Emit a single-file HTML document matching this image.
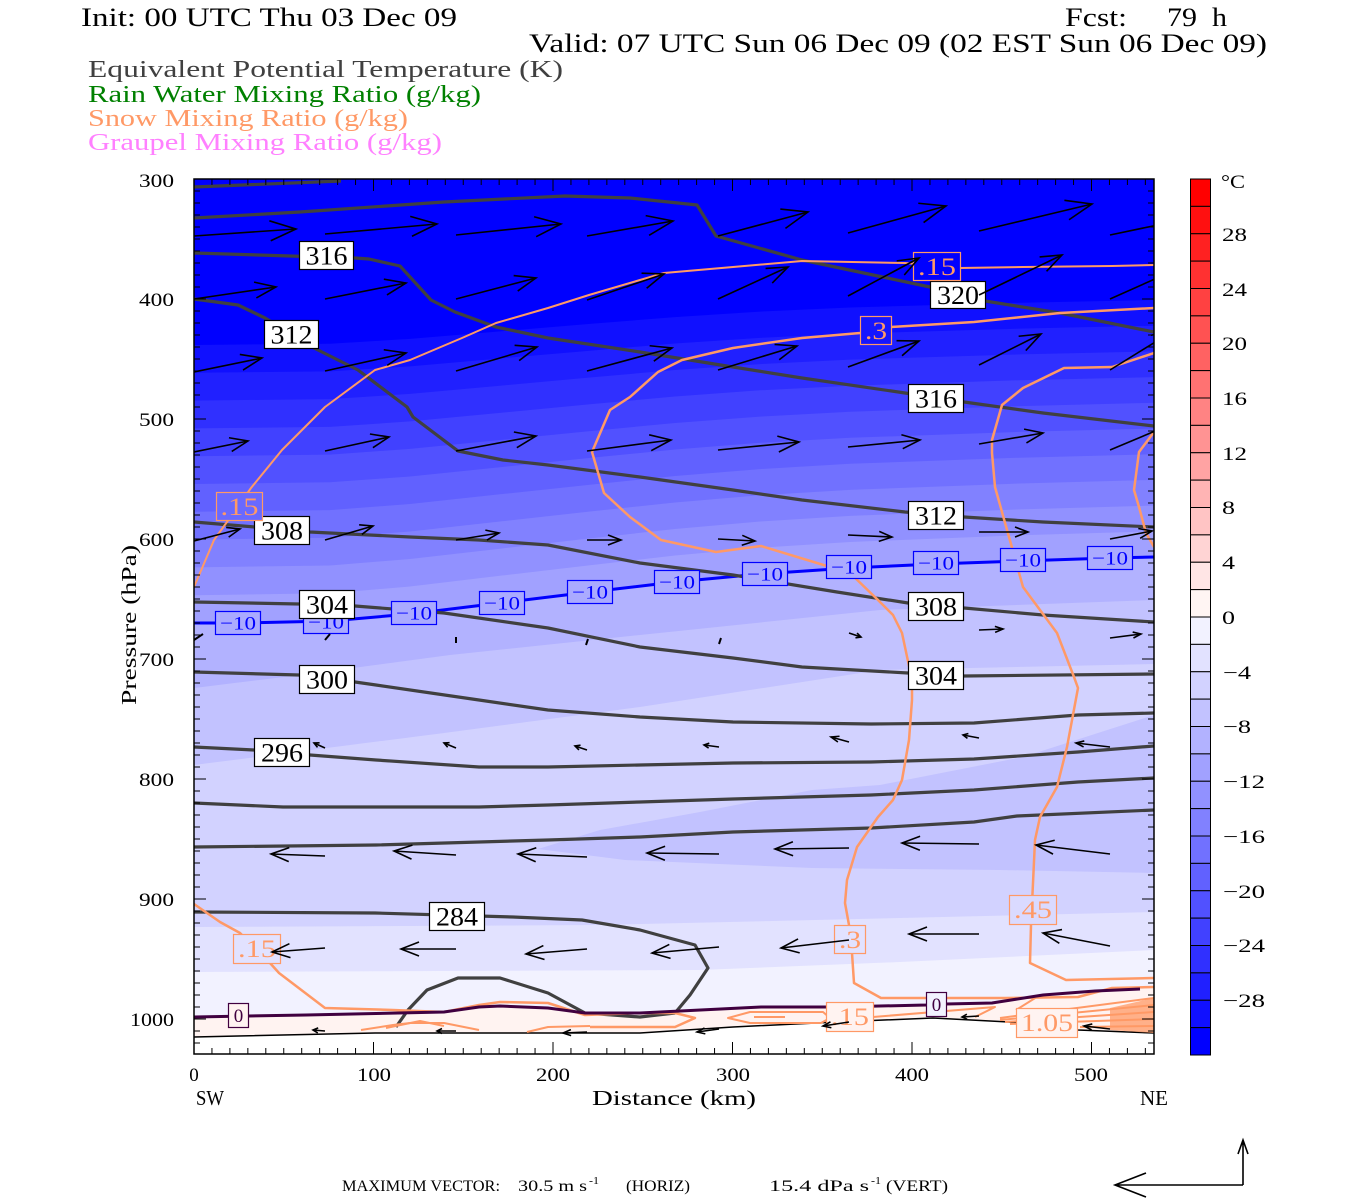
<!DOCTYPE html>
<html><head><meta charset="utf-8"><style>
html,body{margin:0;padding:0;background:#fff;}
svg{display:block;font-family:"Liberation Serif",serif;}
</style></head><body>
<svg width="1350" height="1200" viewBox="0 0 1350 1200" xmlns="http://www.w3.org/2000/svg">
<defs>
<clipPath id="pc"><rect x="194" y="179" width="960" height="875"/></clipPath>
<pattern id="ptx" patternUnits="userSpaceOnUse" x="193.5" y="0" width="17.95" height="20"><rect x="0" y="0" width="1" height="20" fill="#000"/></pattern>
<pattern id="pty" patternUnits="userSpaceOnUse" x="0" y="178.5" width="20" height="12"><rect x="0" y="0" width="20" height="1" fill="#000"/></pattern>
<marker id="aL" viewBox="-30 -12 32 24" markerWidth="32" markerHeight="24" refX="0" refY="0" orient="auto" markerUnits="userSpaceOnUse" overflow="visible"><path d="M-26,-10L0,0L-26,10" fill="none" stroke="#000" stroke-width="1.6"/></marker>
<marker id="aM1" viewBox="-30 -12 32 24" markerWidth="32" markerHeight="24" refX="0" refY="0" orient="auto" markerUnits="userSpaceOnUse" overflow="visible"><path d="M-21,-8L0,0L-21,8" fill="none" stroke="#000" stroke-width="1.6"/></marker>
<marker id="aM2" viewBox="-30 -12 32 24" markerWidth="32" markerHeight="24" refX="0" refY="0" orient="auto" markerUnits="userSpaceOnUse" overflow="visible"><path d="M-18,-7L0,0L-18,7" fill="none" stroke="#000" stroke-width="1.6"/></marker>
<marker id="aS" viewBox="-30 -12 32 24" markerWidth="32" markerHeight="24" refX="0" refY="0" orient="auto" markerUnits="userSpaceOnUse" overflow="visible"><path d="M-13,-5L0,0L-13,5" fill="none" stroke="#000" stroke-width="1.6"/></marker>
<marker id="aT2" viewBox="-30 -12 32 24" markerWidth="32" markerHeight="24" refX="0" refY="0" orient="auto" markerUnits="userSpaceOnUse" overflow="visible"><path d="M-8,-3L0,0L-8,3" fill="none" stroke="#000" stroke-width="1.6"/></marker>
<marker id="aT" viewBox="-30 -12 32 24" markerWidth="32" markerHeight="24" refX="0" refY="0" orient="auto" markerUnits="userSpaceOnUse" overflow="visible"><path d="M-5,-2.5L0,0L-5,2.5" fill="none" stroke="#000" stroke-width="1.6"/></marker>
</defs>

<!-- Titles -->
<text x="81" y="26" font-size="26" textLength="376" lengthAdjust="spacingAndGlyphs">Init: 00 UTC Thu 03 Dec 09</text>
<text x="1065" y="26" font-size="26" textLength="62" lengthAdjust="spacingAndGlyphs">Fcst:</text>
<text x="1167" y="26" font-size="26" textLength="30" lengthAdjust="spacingAndGlyphs">79</text>
<text x="1212" y="26" font-size="26" textLength="15" lengthAdjust="spacingAndGlyphs">h</text>
<text x="529" y="52" font-size="26" textLength="738" lengthAdjust="spacingAndGlyphs">Valid: 07 UTC Sun 06 Dec 09 (02 EST Sun 06 Dec 09)</text>
<text x="88" y="77" font-size="24" fill="#404040" textLength="475" lengthAdjust="spacingAndGlyphs">Equivalent Potential Temperature (K)</text>
<text x="88" y="102" font-size="24" fill="#008000" textLength="393" lengthAdjust="spacingAndGlyphs">Rain Water Mixing Ratio (g/kg)</text>
<text x="88" y="126" font-size="24" fill="#FF9966" textLength="320" lengthAdjust="spacingAndGlyphs">Snow Mixing Ratio (g/kg)</text>
<text x="88" y="150" font-size="24" fill="#FF80FF" textLength="354" lengthAdjust="spacingAndGlyphs">Graupel Mixing Ratio (g/kg)</text>

<!-- Shading -->
<g clip-path="url(#pc)">
<rect x="194" y="179" width="960" height="875" fill="#0000FF"/>
<path fill="#1010FF" d="M194,345L330,343.7L410,338.9L500,331.4L590,323.9L675,317.1L760,311.6L850,307.5L1020,302.7L1154,300V1054H194Z"/>
<path fill="#2020FF" d="M194,372.8L330,371.4L410,366.4L500,358.5L590,350.7L675,343.5L760,337.9L850,333.6L1020,328.6L1154,325.7V1054H194Z"/>
<path fill="#3030FF" d="M194,400.6L330,399.1L410,393.9L500,385.7L590,377.5L675,370L760,364.1L850,359.6L1020,354.4L1154,351.4V1054H194Z"/>
<path fill="#4141FF" d="M194,428.4L330,426.9L410,421.4L500,412.9L590,404.3L675,396.5L760,390.3L850,385.7L1020,380.2L1154,377.1V1054H194Z"/>
<path fill="#5151FF" d="M194,456.2L330,454.6L410,448.9L500,440L590,431.1L675,423L760,416.6L850,411.7L1020,406.1L1154,402.8V1054H194Z"/>
<path fill="#6161FF" d="M194,484L330,482.3L410,476.5L500,467.2L590,457.9L675,449.5L760,442.8L850,437.8L1020,431.9L1154,428.5V1054H194Z"/>
<path fill="#7171FF" d="M194,511.8L330,510.1L410,504L500,494.3L590,484.7L675,476L760,469.1L850,463.8L1020,457.7L1154,454.2V1054H194Z"/>
<path fill="#8181FF" d="M194,539.6L330,537.8L410,531.5L500,521.5L590,511.5L675,502.5L760,495.3L850,489.9L1020,483.5L1154,479.9V1054H194Z"/>
<path fill="#9191FF" d="M194,567.4L330,565.5L410,559L500,548.7L590,538.4L675,529L760,521.5L850,515.9L1020,509.4L1154,505.6V1054H194Z"/>
<path fill="#A1A1FF" d="M194,595.2L330,593.3L410,586.5L500,575.8L590,565.2L675,555.5L760,547.8L850,542L1020,535.2L1154,531.3V1054H194Z"/>
<path fill="#B2B2FF" d="M194,623L240,623L330,621L410,614L500,603L590,592L675,582L760,574L850,568L935,564L1020,561L1110,558L1154,557V1054H194Z"/>
<path fill="#C2C2FF" d="M194,688L300,675L450,655L640,635L880,610L1154,600V1054H194Z"/>
<path fill="#D2D2FF" d="M194,765L444,733L640,707L880,670L1154,664V1054H194Z"/>
<path fill="#C2C2FF" d="M538,849L600,830L700,812L812,790L880,785L1023,757L1154,715L1154,873L1000,870L812,868L625,860Z"/>
<path fill="#E2E2FF" d="M194,927L600,925L900,918L1154,912V1054H194Z"/>
<path fill="#F2F2FF" d="M194,972L700,970L900,962L1154,950V1054H194Z"/>
<path fill="#FFF3F1" d="M194,1017L306,1015L444,1012L479,1007L500,1006L548,1008L585,1013L640,1013L761,1007L837,1007L926,1005L946,1004L992,1003L1043,995L1095,991L1140,989L1154,988V1054H194Z"/>
<path fill="#FFFFFF" d="M194,1037L375,1033L640,1033L733,1027L837,1022L933,1018L1009,1022L1078,1030L1154,1033V1054H194Z"/>
<path fill="none" stroke="#000" stroke-width="1.5" d="M194,1037L375,1033L640,1033L733,1027L837,1022L933,1018L1009,1022L1078,1030L1154,1033"/>

<!-- -10 isotherm -->
<path fill="none" stroke="#0000FF" stroke-width="3" d="M194,623L240,623L330,621L410,614L500,603L590,592L675,582L760,574L850,568L935,564L1020,561L1110,558L1154,557"/>

<!-- theta-e contours -->
<g fill="none" stroke="#404040" stroke-width="3.2" stroke-linejoin="round">
<path d="M194,187L341,181"/>
<path d="M194,218L300,212L444,202L565,196L630,198L697,205L716,236L802,260L930,287L985,301L1060,313L1154,332"/>
<path d="M194,253L355,258L369,259L400,266L431,300L455,312L496,327L548,338L640,352L733,367L802,378L905,393L964,402L1043,413L1154,426"/>
<path d="M194,299L238,305L265,318L314,348L358,370L407,407L413,417L458,451L503,460L548,465L640,477L733,490L802,500L905,512L964,517L1043,522L1154,527"/>
<path d="M194,522L255,527L310,532L410,537L479,540L548,545L640,563L733,575L837,592L908,603L964,608L1043,615L1154,622"/>
<path d="M194,602L299,604L355,606L444,613L548,628L640,647L733,658L802,667L908,673L964,676L1154,674"/>
<path d="M194,672L299,675L355,682L376,685L479,700L548,710L640,717L733,722L871,724L974,723L1078,715L1154,713"/>
<path d="M194,747L254,750L310,755L376,760L479,767L548,767L640,765L733,763L871,762L974,759L1078,752L1154,746"/>
<path d="M194,803L283,807L479,807L548,805L640,802L733,799L871,795L974,790L1078,782L1154,778"/>
<path d="M194,847L376,845L548,840L640,837L733,832L871,828L974,822L1017,816L1154,810"/>
<path d="M194,912L375,913L513,917L582,920L640,930L695,945L708,968L690,995L675,1013L640,1017L585,1013L548,993L500,978L458,978L427,990L408,1010L396,1027"/>
</g>

<!-- snow contours -->
<g fill="none" stroke="#FF9966" stroke-width="2.5" stroke-linejoin="round">
<path stroke-width="2" d="M194,587L214,540L232,515L251,488L282,450L325,407L375,370L410,360L462,338L496,323L548,308L589,295L640,280L664,273L733,267L802,261L905,263L960,268L1023,267L1112,266L1154,265"/>
<path d="M1154,308L1060,313L974,322L891,327L860,333L802,338L733,348L682,360L658,372L630,397L610,410L592,452L604,493L630,517L661,540L716,552L761,546L850,573L878,600L893,615L902,633L912,680L912,700L909,740L902,780L893,800L878,817L857,847L847,880L845,903L849,925L852,953L854,983L881,998L1005,998L1078,997L1112,988L1154,987"/>
<path d="M1154,353L1112,367L1064,368L1023,388L1002,405L992,440L992,453L995,487L1009,537L1023,587L1040,610L1057,633L1074,677L1078,688L1067,747L1057,787L1040,817L1035,840L1033,883L1031,925L1030,963L1066,980L1154,978"/>
<path d="M1154,432L1139,452L1134,490L1139,507L1146,533L1154,547"/>
<path d="M194,904L220,922L240,933L270,963L279,973L325,1008L393,1010L444,1012L479,1005L500,1002L548,1003L585,1015L640,1013L675,1013L695,1018L675,1027L630,1027L590,1027"/>
<path stroke-width="2" d="M361,1030L393,1025L410,1023L444,1023L479,1030"/>
<path stroke-width="2" d="M386,1028L420,1021L444,1026"/>
<path stroke-width="2" d="M527,1032L548,1027L590,1026"/>
<path stroke-width="2" d="M728,1018L750,1012L823,1012L830,1018L821,1023L750,1023Z"/>
<path stroke-width="2" d="M754,1017L785,1017"/>
<path stroke-width="2" d="M873,1017L995,1007L975,1017"/>
<path stroke-width="2" d="M1000,1018L1154,998M1000,1020L1154,1005M1005,1022L1154,1012M1010,1024L1154,1019M1080,1027L1154,1026M1040,995L1016,1010"/>
<path fill="#FF9966" stroke="none" d="M1110,1008L1154,998L1154,1033L1110,1030Z" opacity="0.75"/>
</g>

<!-- 0 C contour -->
<path fill="none" stroke="#400040" stroke-width="3" d="M194,1017L306,1015L444,1012L479,1007L500,1006L548,1008L585,1013L640,1013L761,1007L837,1007L926,1005L946,1004L992,1003L1043,995L1095,991L1140,989"/>

<!-- -10 labels -->
<g fill="#AAAAFF" stroke="#0000FF" stroke-width="1.2">
<rect x="215.5" y="611.5" width="45" height="23"/>
<rect x="303.5" y="610.5" width="45" height="23"/>
<rect x="391.5" y="601.5" width="45" height="23"/>
<rect x="479.5" y="591.5" width="45" height="23"/>
<rect x="567.5" y="580.5" width="45" height="23"/>
<rect x="654.5" y="570.5" width="45" height="23"/>
<rect x="742.5" y="562.5" width="45" height="23"/>
<rect x="826.5" y="555.5" width="45" height="23"/>
<rect x="913.5" y="551.5" width="45" height="23"/>
<rect x="1000.5" y="548.5" width="45" height="23"/>
<rect x="1087.5" y="546.5" width="45" height="23"/>
</g>
<g fill="#0000FF" font-size="19" text-anchor="middle">
<text x="238" y="629.5" textLength="36" lengthAdjust="spacingAndGlyphs">−10</text>
<text x="326" y="628.5" textLength="36" lengthAdjust="spacingAndGlyphs">−10</text>
<text x="414" y="619.5" textLength="36" lengthAdjust="spacingAndGlyphs">−10</text>
<text x="502" y="609.5" textLength="36" lengthAdjust="spacingAndGlyphs">−10</text>
<text x="590" y="598.5" textLength="36" lengthAdjust="spacingAndGlyphs">−10</text>
<text x="677" y="588.5" textLength="36" lengthAdjust="spacingAndGlyphs">−10</text>
<text x="765" y="580.5" textLength="36" lengthAdjust="spacingAndGlyphs">−10</text>
<text x="849" y="573.5" textLength="36" lengthAdjust="spacingAndGlyphs">−10</text>
<text x="936" y="569.5" textLength="36" lengthAdjust="spacingAndGlyphs">−10</text>
<text x="1023" y="566.5" textLength="36" lengthAdjust="spacingAndGlyphs">−10</text>
<text x="1110" y="564.5" textLength="36" lengthAdjust="spacingAndGlyphs">−10</text>
</g>

<!-- theta-e labels -->
<g fill="#FFFFFF" stroke="#000" stroke-width="1.2">
<rect x="299.5" y="241.5" width="54" height="28"/>
<rect x="264.5" y="320.5" width="54" height="28"/>
<rect x="254.5" y="516.5" width="55" height="28"/>
<rect x="299.5" y="590.5" width="55" height="28"/>
<rect x="299.5" y="665.5" width="55" height="28"/>
<rect x="254.5" y="738.5" width="55" height="28"/>
<rect x="429.5" y="902.5" width="55" height="28"/>
<rect x="930.5" y="281.5" width="55" height="27"/>
<rect x="908.5" y="384.5" width="55" height="28"/>
<rect x="908.5" y="501.5" width="55" height="28"/>
<rect x="908.5" y="592.5" width="55" height="28"/>
<rect x="908.5" y="661.5" width="55" height="28"/>
</g>
<g fill="#000" font-size="26" text-anchor="middle">
<text x="326.5" y="264.5" textLength="42" lengthAdjust="spacingAndGlyphs">316</text>
<text x="291.5" y="343.5" textLength="42" lengthAdjust="spacingAndGlyphs">312</text>
<text x="282" y="539.5" textLength="42" lengthAdjust="spacingAndGlyphs">308</text>
<text x="327" y="613.5" textLength="42" lengthAdjust="spacingAndGlyphs">304</text>
<text x="327" y="688.5" textLength="42" lengthAdjust="spacingAndGlyphs">300</text>
<text x="282" y="761.5" textLength="42" lengthAdjust="spacingAndGlyphs">296</text>
<text x="457" y="925.5" textLength="42" lengthAdjust="spacingAndGlyphs">284</text>
<text x="958" y="304" textLength="42" lengthAdjust="spacingAndGlyphs">320</text>
<text x="936" y="407.5" textLength="42" lengthAdjust="spacingAndGlyphs">316</text>
<text x="936" y="524.5" textLength="42" lengthAdjust="spacingAndGlyphs">312</text>
<text x="936" y="615.5" textLength="42" lengthAdjust="spacingAndGlyphs">308</text>
<text x="936" y="684.5" textLength="42" lengthAdjust="spacingAndGlyphs">304</text>
</g>

<!-- snow labels -->
<g stroke="#FF9966" stroke-width="1.2">
<rect x="216.5" y="492.5" width="46" height="28" fill="#6969FF"/>
<rect x="913.5" y="252.5" width="47" height="28" fill="#0000FF"/>
<rect x="860.5" y="316.5" width="31" height="28" fill="#1515FF"/>
<rect x="233.5" y="934.5" width="47" height="29" fill="#E2E2FF"/>
<rect x="834.5" y="925.5" width="31" height="28" fill="#E2E2FF"/>
<rect x="1009.5" y="895.5" width="47" height="29" fill="#DADAFF"/>
<rect x="826.5" y="1002.5" width="47" height="29" fill="#FFF3F1"/>
<rect x="1016.5" y="1008.5" width="61" height="29" fill="#FFF3F1"/>
</g>
<g fill="#FF9966" font-size="25" text-anchor="middle">
<text x="239.5" y="515" textLength="38" lengthAdjust="spacingAndGlyphs">.15</text>
<text x="937" y="275" textLength="38" lengthAdjust="spacingAndGlyphs">.15</text>
<text x="876" y="339" textLength="22" lengthAdjust="spacingAndGlyphs">.3</text>
<text x="257" y="957" textLength="38" lengthAdjust="spacingAndGlyphs">.15</text>
<text x="850" y="948" textLength="22" lengthAdjust="spacingAndGlyphs">.3</text>
<text x="1033" y="918" textLength="38" lengthAdjust="spacingAndGlyphs">.45</text>
<text x="850" y="1025" textLength="38" lengthAdjust="spacingAndGlyphs">.15</text>
<text x="1047" y="1031" textLength="52" lengthAdjust="spacingAndGlyphs">1.05</text>
</g>
<g stroke="#400040" stroke-width="1.2">
<rect x="228.5" y="1003.5" width="20" height="24" fill="#FFF3F1"/>
<rect x="926.5" y="992.5" width="20" height="24" fill="#F2F2FF"/>
</g>
<g fill="#400040" font-size="19" text-anchor="middle">
<text x="238.5" y="1022">0</text>
<text x="936.5" y="1011">0</text>
</g>

<!-- wind arrows -->
<g fill="none" stroke="#000" stroke-width="1.6">
<g marker-end="url(#aL)">
<path d="M194,236L296,229"/><path d="M325,234L437,224"/><path d="M456,235L561,224"/><path d="M587,236L673,221"/><path d="M718,236L808,212"/><path d="M848,233L946,206"/><path d="M979,231L1092,204"/><path d="M1110,235L1215,213"/>
</g>
<g marker-end="url(#aM1)">
<path d="M194,299L276,287"/><path d="M325,299L406,283"/><path d="M456,299L536,278"/><path d="M587,300L664,274"/><path d="M718,299L788,267"/><path d="M848,296L919,258"/><path d="M979,295L1062,255"/><path d="M1110,299L1193,262"/>
<path d="M194,372L262,358"/><path d="M325,371L406,353"/><path d="M456,371L537,347"/><path d="M587,371L672,348"/><path d="M718,370L797,346"/><path d="M848,367L919,341"/><path d="M979,365L1041,334"/><path d="M1110,370L1173,331"/>
<path d="M456,451L536,436"/><path d="M587,451L671,440"/><path d="M718,450L799,442"/>
</g>
<g marker-end="url(#aM2)">
<path d="M194,452L248,441"/><path d="M325,451L389,437"/><path d="M848,447L920,440"/><path d="M979,444L1043,433"/><path d="M1110,450L1179,421"/>
<path d="M325,856L271,854"/><path d="M456,855L394,851"/><path d="M587,857L518,854"/><path d="M719,854L647,853"/><path d="M849,848L775,849"/><path d="M979,844L902,843"/><path d="M1110,854L1036,845"/>
<path d="M325,948L272,952"/><path d="M456,949L401,949"/><path d="M587,949L526,954"/><path d="M719,947L652,953"/><path d="M849,940L781,948"/><path d="M979,934L909,934"/><path d="M1110,946L1043,933"/>
</g>
<g marker-end="url(#aS)">
<path d="M194,541L240,529"/><path d="M325,540L373,526"/><path d="M456,540L499,533"/><path d="M587,540L621,540"/><path d="M718,539L755,541"/><path d="M848,535L892,537"/><path d="M979,532L1028,532"/><path d="M1110,539L1152,531"/>
</g>
<g marker-end="url(#aT2)">
<path d="M979,630L1003,629"/><path d="M1110,638L1141,634"/><path d="M849,742L831,737"/><path d="M1110,747L1076,743"/>
<path d="M849,1022L823,1026"/><path d="M1110,1029L1084,1026"/><path d="M587,1032L563,1033"/><path d="M719,1029L697,1032"/>
</g>
<g marker-end="url(#aT)">
<path d="M849,633L861,637"/>
<path d="M325,748L314,743"/><path d="M456,748L444,743"/><path d="M587,750L575,746"/><path d="M719,747L704,745"/><path d="M979,738L963,735"/>
<path d="M325,1031L313,1030"/><path d="M456,1031L437,1031"/><path d="M979,1016L962,1017"/>
</g>
<path stroke-width="2" d="M194,640L203,634M325,640L330,634M456,643L456,637M586,645L588,639M719,644L721,638"/>
</g>
</g>

<!-- frame & ticks -->
<rect x="194" y="179" width="960" height="875" fill="none" stroke="#000" stroke-width="1.5"/>
<rect x="194" y="179" width="960" height="6" fill="url(#ptx)"/>
<rect x="194" y="1048" width="960" height="6" fill="url(#ptx)"/>
<rect x="194" y="179" width="6" height="865" fill="url(#pty)"/>
<rect x="1148" y="179" width="6" height="865" fill="url(#pty)"/>
<path stroke="#000" stroke-width="1" d="M373.5,179v12M553,179v12M732.5,179v12M912,179v12M1091.5,179v12M373.5,1054v-12M553,1054v-12M732.5,1054v-12M912,1054v-12M1091.5,1054v-12M194,299h12M194,419h12M194,539h12M194,659h12M194,779h12M194,899h12M194,1019h12M1154,299h-12M1154,419h-12M1154,539h-12M1154,659h-12M1154,779h-12M1154,899h-12M1154,1019h-12"/>

<!-- y labels -->
<g font-size="19" text-anchor="end">
<text x="174" y="187" textLength="35" lengthAdjust="spacingAndGlyphs">300</text>
<text x="174" y="306" textLength="35" lengthAdjust="spacingAndGlyphs">400</text>
<text x="174" y="426" textLength="35" lengthAdjust="spacingAndGlyphs">500</text>
<text x="174" y="546" textLength="35" lengthAdjust="spacingAndGlyphs">600</text>
<text x="174" y="666" textLength="35" lengthAdjust="spacingAndGlyphs">700</text>
<text x="174" y="786" textLength="35" lengthAdjust="spacingAndGlyphs">800</text>
<text x="174" y="906" textLength="35" lengthAdjust="spacingAndGlyphs">900</text>
<text x="174" y="1026" textLength="44" lengthAdjust="spacingAndGlyphs">1000</text>
</g>
<text transform="translate(136,625) rotate(-90)" font-size="21" text-anchor="middle" textLength="160" lengthAdjust="spacingAndGlyphs">Pressure (hPa)</text>

<!-- x labels -->
<g font-size="19" text-anchor="middle">
<text x="194" y="1081">0</text>
<text x="374" y="1081" textLength="34" lengthAdjust="spacingAndGlyphs">100</text>
<text x="553" y="1081" textLength="34" lengthAdjust="spacingAndGlyphs">200</text>
<text x="733" y="1081" textLength="34" lengthAdjust="spacingAndGlyphs">300</text>
<text x="912" y="1081" textLength="34" lengthAdjust="spacingAndGlyphs">400</text>
<text x="1091" y="1081" textLength="34" lengthAdjust="spacingAndGlyphs">500</text>
</g>
<text x="196" y="1105" font-size="21" textLength="28" lengthAdjust="spacingAndGlyphs">SW</text>
<text x="1140" y="1105" font-size="21" textLength="28" lengthAdjust="spacingAndGlyphs">NE</text>
<text x="674" y="1105" font-size="21" text-anchor="middle" textLength="164" lengthAdjust="spacingAndGlyphs">Distance (km)</text>

<!-- colorbar -->
<g stroke="#000" stroke-width="1">
<rect x="1190.5" y="179" width="20" height="27.375" fill="#FF0000"/>
<rect x="1190.5" y="206.375" width="20" height="27.375" fill="#FF1010"/>
<rect x="1190.5" y="233.75" width="20" height="27.375" fill="#FF2121"/>
<rect x="1190.5" y="261.125" width="20" height="27.375" fill="#FF3131"/>
<rect x="1190.5" y="288.5" width="20" height="27.375" fill="#FF4141"/>
<rect x="1190.5" y="315.875" width="20" height="27.375" fill="#FF5252"/>
<rect x="1190.5" y="343.25" width="20" height="27.375" fill="#FF6262"/>
<rect x="1190.5" y="370.625" width="20" height="27.375" fill="#FF7272"/>
<rect x="1190.5" y="398" width="20" height="27.375" fill="#FF8383"/>
<rect x="1190.5" y="425.375" width="20" height="27.375" fill="#FF9393"/>
<rect x="1190.5" y="452.75" width="20" height="27.375" fill="#FFA3A3"/>
<rect x="1190.5" y="480.125" width="20" height="27.375" fill="#FFB4B4"/>
<rect x="1190.5" y="507.5" width="20" height="27.375" fill="#FFC4C4"/>
<rect x="1190.5" y="534.875" width="20" height="27.375" fill="#FFD4D4"/>
<rect x="1190.5" y="562.25" width="20" height="27.375" fill="#FFE5E5"/>
<rect x="1190.5" y="589.625" width="20" height="27.375" fill="#FFF5F3"/>
<rect x="1190.5" y="617" width="20" height="27.375" fill="#F2F2FF"/>
<rect x="1190.5" y="644.375" width="20" height="27.375" fill="#E2E2FF"/>
<rect x="1190.5" y="671.75" width="20" height="27.375" fill="#D2D2FF"/>
<rect x="1190.5" y="699.125" width="20" height="27.375" fill="#C2C2FF"/>
<rect x="1190.5" y="726.5" width="20" height="27.375" fill="#B2B2FF"/>
<rect x="1190.5" y="753.875" width="20" height="27.375" fill="#A1A1FF"/>
<rect x="1190.5" y="781.25" width="20" height="27.375" fill="#9191FF"/>
<rect x="1190.5" y="808.625" width="20" height="27.375" fill="#8181FF"/>
<rect x="1190.5" y="836" width="20" height="27.375" fill="#7171FF"/>
<rect x="1190.5" y="863.375" width="20" height="27.375" fill="#6161FF"/>
<rect x="1190.5" y="890.75" width="20" height="27.375" fill="#5151FF"/>
<rect x="1190.5" y="918.125" width="20" height="27.375" fill="#4141FF"/>
<rect x="1190.5" y="945.5" width="20" height="27.375" fill="#3030FF"/>
<rect x="1190.5" y="972.875" width="20" height="27.375" fill="#2020FF"/>
<rect x="1190.5" y="1000.25" width="20" height="27.375" fill="#1010FF"/>
<rect x="1190.5" y="1027.625" width="20" height="27.375" fill="#0000FF"/>
</g>
<g font-size="19">
<text x="1221" y="188" textLength="24" lengthAdjust="spacingAndGlyphs">°C</text>
<text x="1222" y="241" textLength="25" lengthAdjust="spacingAndGlyphs">28</text>
<text x="1222" y="296" textLength="25" lengthAdjust="spacingAndGlyphs">24</text>
<text x="1222" y="350" textLength="25" lengthAdjust="spacingAndGlyphs">20</text>
<text x="1222" y="405" textLength="25" lengthAdjust="spacingAndGlyphs">16</text>
<text x="1222" y="460" textLength="25" lengthAdjust="spacingAndGlyphs">12</text>
<text x="1222" y="514" textLength="13" lengthAdjust="spacingAndGlyphs">8</text>
<text x="1222" y="569" textLength="13" lengthAdjust="spacingAndGlyphs">4</text>
<text x="1222" y="624" textLength="13" lengthAdjust="spacingAndGlyphs">0</text>
<text x="1223" y="679" textLength="28" lengthAdjust="spacingAndGlyphs">−4</text>
<text x="1223" y="733" textLength="28" lengthAdjust="spacingAndGlyphs">−8</text>
<text x="1223" y="788" textLength="42" lengthAdjust="spacingAndGlyphs">−12</text>
<text x="1223" y="843" textLength="42" lengthAdjust="spacingAndGlyphs">−16</text>
<text x="1223" y="898" textLength="42" lengthAdjust="spacingAndGlyphs">−20</text>
<text x="1223" y="952" textLength="42" lengthAdjust="spacingAndGlyphs">−24</text>
<text x="1223" y="1007" textLength="42" lengthAdjust="spacingAndGlyphs">−28</text>
</g>

<!-- max vector -->
<g font-size="16">
<text x="342" y="1191" textLength="158" lengthAdjust="spacingAndGlyphs">MAXIMUM VECTOR:</text>
<text x="518" y="1191" textLength="69" lengthAdjust="spacingAndGlyphs">30.5 m s</text>
<text x="589" y="1184" font-size="11" textLength="10" lengthAdjust="spacingAndGlyphs">-1</text>
<text x="626" y="1191" textLength="64" lengthAdjust="spacingAndGlyphs">(HORIZ)</text>
<text x="769" y="1191" textLength="100" lengthAdjust="spacingAndGlyphs">15.4 dPa s</text>
<text x="871" y="1184" font-size="11" textLength="10" lengthAdjust="spacingAndGlyphs">-1</text>
<text x="886" y="1191" textLength="62" lengthAdjust="spacingAndGlyphs">(VERT)</text>
</g>
<path fill="none" stroke="#000" stroke-width="1.6" d="M1243,1185L1115,1185M1146,1173L1115,1185L1146,1197M1243,1185L1243,1140M1238,1154L1243,1140L1248,1154"/>
</svg>
</body></html>
